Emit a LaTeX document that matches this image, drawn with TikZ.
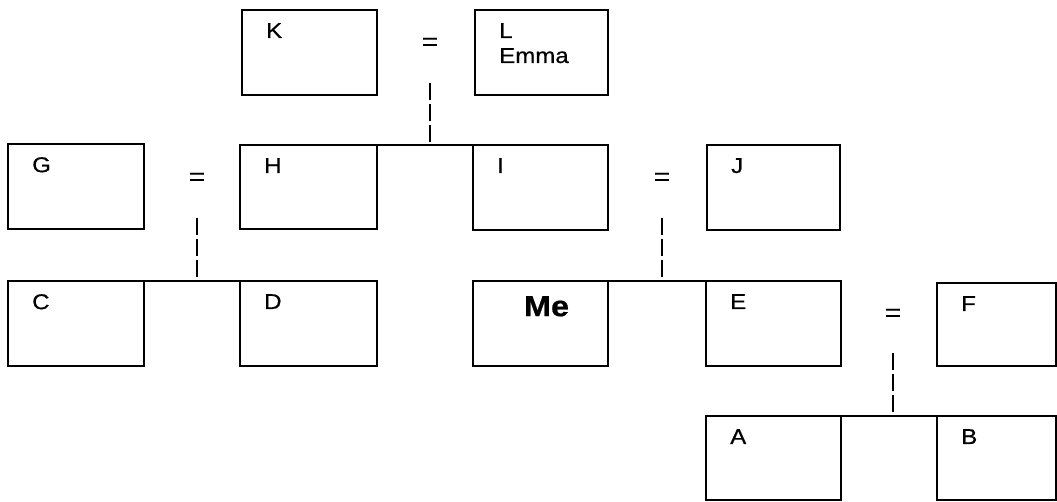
\documentclass[tikz,border=0pt]{standalone}
\usepackage{fontspec}
\setmainfont{Liberation Sans}[FakeStretch=1.12,FakeBold=0.6]
\usetikzlibrary{calc}
\newcommand\labfont{\fontsize{21.5}{25}\selectfont}
\newcommand\eqfont{\fontsize{25}{28}\selectfont}
\newcommand\mefont{\fontsize{29}{34}\selectfont\bfseries}
\begin{document}
\begin{tikzpicture}[x=1pt,y=-1pt,
  box/.style={draw, line width=2.4pt, minimum width=135pt, minimum height=85pt,
    anchor=north west, inner sep=0pt, outer sep=0pt},
  lbl/.style={label={[anchor=north west,xshift=24pt,yshift=-13pt,inner sep=0pt,
    font=\labfont,align=left]north west:#1}},
  melbl/.style={label={[anchor=north,xshift=6pt,yshift=-15pt,inner sep=0pt,
    font=\mefont]north:#1}},
  eq/.style={inner sep=0pt, font=\eqfont},
  sib/.style={line width=1.2pt},
  dsh/.style={line width=1.4pt, dash pattern=on 17pt off 4pt}]
\useasboundingbox (0,0) rectangle (1057,502);
% boxes
\node[box,lbl=K] (K) at (242,10) {};
\node[box,lbl={L\\Emma},minimum width=133pt] (L) at (475,10) {};
\node[box,lbl=G,minimum width=136pt] (G) at (8,144) {};
\node[box,lbl=H,minimum width=137pt,minimum height=84pt] (H) at (240,145) {};
\node[box,lbl=I] (I) at (473,145) {};
\node[box,lbl=J,minimum width=133pt] (J) at (707,145) {};
\node[box,lbl=C,minimum width=136pt] (C) at (8,281) {};
\node[box,lbl=D,minimum width=137pt] (D) at (240,281) {};
\node[box,melbl=Me] (Me) at (473,281) {};
\node[box,lbl=E] (E) at (706,281) {};
\node[box,lbl=F,minimum width=119pt,minimum height=83pt] (F) at (937,283) {};
\node[box,lbl=A,minimum height=84pt] (A) at (706,416) {};
\node[box,lbl=B,minimum width=119pt,minimum height=84pt] (B) at (937,416) {};
% marriage signs
\node[eq] (eKL) at (430,44) {=};
\node[eq] (eGH) at (197,179) {=};
\node[eq] (eIJ) at (662,179) {=};
\node[eq] (eEF) at (893,315) {=};
% sibling lines
\draw[sib] (H.north east) -- (I.north west);
\draw[sib] (C.north east) -- (D.north west);
\draw[sib] (Me.north east) -- (E.north west);
\draw[sib] (A.north east) -- (B.north west);
% descent lines
\coordinate (dKL) at (430,83);
\coordinate (dGH) at (197,218);
\coordinate (dIJ) at (662,218);
\coordinate (dEF) at (893,353);
\draw[dsh] (dKL) -- (dKL |- H.north east);
\draw[dsh] (dGH) -- (dGH |- C.north east);
\draw[dsh] (dIJ) -- (dIJ |- Me.north east);
\draw[dsh] (dEF) -- (dEF |- A.north east);
\end{tikzpicture}
\end{document}
